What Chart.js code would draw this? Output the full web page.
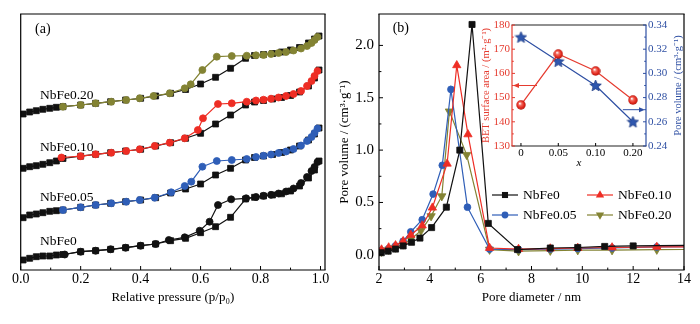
<!DOCTYPE html>
<html>
<head>
<meta charset="utf-8">
<script src="https://cdn.jsdelivr.net/npm/chart.js@4.4.1/dist/chart.umd.min.js"></script>
<style>
html,body{margin:0;padding:0;background:#fff;}
#wrap{position:relative;width:700px;height:324px;overflow:hidden;background:#fff;}
#wrap canvas{position:absolute;}
</style>
</head>
<body>
<div id="wrap">
<canvas id="ca" width="340" height="324" style="left:0;top:0"></canvas>
<canvas id="cb" width="370" height="324" style="left:330px;top:0"></canvas>
<canvas id="cc" width="240" height="175" style="left:460px;top:0"></canvas>
</div>
<script>
const FONT = "'Liberation Serif','Times New Roman',Times,serif";
Chart.defaults.font.family = FONT;
Chart.defaults.color = '#000';

/* ---------------- Panel (a): N2 isotherms (offset, arbitrary units) ---------------- */
const isoNames = ["NbFe0.20", "NbFe0.10", "NbFe0.05", "NbFe0"];
const adsP = [0.008,0.03,0.052,0.074,0.097,0.119,0.141,0.2,0.25,0.3,0.35,0.4,0.45,0.5,0.55,0.6,0.65,0.7,0.75,0.78,0.81,0.84,0.87,0.9,0.93,0.96,0.98,0.995];
const ads020 = [156,158,159.3,160.7,161.7,162.7,163.3,165,166.7,168.3,170,171.7,174,176.7,180.5,186,192.7,201.7,211.7,214.5,215.5,216.5,218,220,222.5,227,231,234];
const ads010 = [101.7,103.3,104.3,105.7,107.3,109,111.5,113.8,115.7,117.3,119,120.7,124,127.3,131.7,136.7,146,155,165,168,169.5,171,172.5,174.5,178,184,192,200];
const ads005 = [52.3,55,56,57.3,58.7,59.3,60,62.7,65,66.7,68.3,70,72.3,77,81,86,95,101.7,110,112.5,114,115.5,117.5,120,124,130,136,142];
const ads000 = [10,11.7,13.3,14,14,15,15.5,18.3,19.3,20.7,22.3,24.3,26,29.3,31.7,37.3,43.3,52.7,71,72.7,74,75,76.2,79,84,92,100,109];
const des020P = [0.99,0.98,0.97,0.955,0.935,0.91,0.885,0.86,0.835,0.81,0.785,0.754,0.704,0.654,0.606,0.567,0.547,0.497,0.443,0.397,0.352,0.302,0.25,0.2,0.141];
const des020 = [233,230,227,224,221.5,219.5,218,217,216,215,214.7,214.3,214,213.3,200,185.7,181.7,176.7,174,171.7,170,168.3,166.7,165,163.3];
const des010P = [0.99,0.98,0.97,0.955,0.935,0.91,0.885,0.86,0.835,0.81,0.785,0.754,0.704,0.658,0.608,0.591,0.547,0.497,0.447,0.397,0.352,0.302,0.25,0.2,0.136];
const des010 = [199,194,189,184,179,176,174,172.5,171.3,170.3,169.5,168.3,166.7,166,151.7,140,131.7,127.3,124,120.7,119,117.3,115.7,113.8,112.5];
const des005P = [0.99,0.98,0.97,0.955,0.935,0.91,0.885,0.86,0.835,0.81,0.785,0.754,0.704,0.654,0.606,0.569,0.547,0.502,0.447,0.397,0.352,0.302,0.25,0.2,0.141];
const des005 = [141.5,137,133,129,124.5,121,118.5,117,115.5,114.3,113,111,110,109,103.3,88.3,84,77.7,72.3,70,68.3,66.7,65,62.7,60];
const des000P = [0.99,0.98,0.97,0.955,0.935,0.91,0.885,0.86,0.835,0.81,0.785,0.752,0.702,0.658,0.63,0.597,0.547,0.494,0.45,0.4,0.35,0.3,0.25,0.2,0.147];
const des000 = [108,103,99,93,87,81.5,78.5,76.5,75.2,74.2,73,71.7,70.7,65,48.3,39.3,32.7,30,26,24.3,22.3,20.7,19.3,18.3,15.5];
const pTicks = [0, 0.2, 0.4, 0.6, 0.8, 1.0];

/* ---------------- Panel (b): BJH pore size distribution ---------------- */
const bjhNames = ["NbFe0", "NbFe0.10", "NbFe0.05", "NbFe0.20"];
const dia000 = [2.09,2.36,2.65,2.95,3.28,3.61,4.07,4.65,5.18,5.66,6.30,7.45,8.74,9.82,10.88,12.0,15.5];
const vol000 = [0.02,0.035,0.055,0.085,0.12,0.16,0.26,0.455,1.00,2.20,0.30,0.05,0.065,0.07,0.08,0.085,0.095];
const dia010 = [2.1,2.38,2.65,2.95,3.25,3.7,4.1,4.68,5.06,5.5,6.35,7.49,8.74,9.82,11.17,12.93,15.5];
const vol010 = [0.05,0.07,0.09,0.13,0.19,0.28,0.45,0.87,1.81,1.15,0.065,0.055,0.06,0.065,0.07,0.075,0.078];
const dia005 = [2.1,2.38,2.65,2.95,3.25,3.7,4.13,4.49,4.83,5.48,6.35,7.49,8.74,9.82,11.17,12.93,15.5];
const vol005 = [0.04,0.06,0.085,0.13,0.22,0.335,0.58,0.855,1.58,0.455,0.055,0.05,0.055,0.06,0.065,0.075,0.08];
const dia020 = [2.1,2.38,2.65,2.95,3.25,3.65,4.05,4.47,4.77,5.45,6.35,7.49,8.74,9.82,11.17,12.93,15.5];
const vol020 = [0.03,0.05,0.07,0.1,0.15,0.23,0.37,0.56,1.37,0.955,0.05,0.035,0.04,0.045,0.045,0.05,0.052];
const dTicks = [2, 4, 6, 8, 10, 12, 14];
const vTicks = [0, 0.5, 1.0, 1.5, 2.0];

/* ---------------- Inset ---------------- */
const insetCats = ["0", "0.05", "0.10", "0.20"];
const betArea = [147, 168, 161, 149];
const poreVol = [0.33, 0.31, 0.29, 0.26];
const betTicks = [130, 140, 150, 160, 170, 180];
const pvTicks = [0.24, 0.26, 0.28, 0.30, 0.32, 0.34];

/* ---------------- styles ---------------- */
const C = { black:'#111111', red:'#EE2D24', blue:'#2F5EB7', olive:'#838333',
            iRed:'#E53B2F', iBlue:'#2E4FA3' };
const pts = (xs, ys) => xs.map((x, i) => ({x: x, y: ys[i]}));
const fixTicks = arr => (s => { s.ticks = arr.map(v => ({value: v})); });

function markerPath(ctx, style, x, y, r) {
  ctx.beginPath();
  if (style === 'rect') { const s = r * Math.SQRT1_2; ctx.rect(x - s, y - s, 2 * s, 2 * s); }
  else if (style === 'circle') { ctx.arc(x, y, r, 0, Math.PI * 2); }
  else {
    let rad = style === 'triDown' ? Math.PI : 0;
    for (let k = 0; k < 3; k++) {
      const px = x + Math.sin(rad) * r, py = y - Math.cos(rad) * r;
      if (k === 0) ctx.moveTo(px, py); else ctx.lineTo(px, py);
      rad += Math.PI * 2 / 3;
    }
    ctx.closePath();
  }
}

const decor = {
  id: 'decor',
  afterDatasetsDraw(chart, args, o) {
    const ctx = chart.ctx, a = chart.chartArea;
    ctx.save();
    if (o.frame) {
      const f = o.frame;
      const seg = (x1, y1, x2, y2, c) => { ctx.strokeStyle = c; ctx.lineWidth = f.width; ctx.beginPath(); ctx.moveTo(x1, y1); ctx.lineTo(x2, y2); ctx.stroke(); };
      seg(a.left - 0.6, a.top, a.right + 0.6, a.top, f.top);
      seg(a.left - 0.6, a.bottom, a.right + 0.6, a.bottom, f.bottom);
      seg(a.left, a.top, a.left, a.bottom, f.left);
      seg(a.right, a.top, a.right, a.bottom, f.right);
    }
    (o.ticks || []).forEach(t => {
      const s = chart.scales[t.id];
      const vals = s.ticks.map(k => k.value);
      const minors = [];
      if (t.minor) for (let i = 0; i < vals.length - 1; i++) for (let j = 1; j <= t.minor; j++) minors.push(vals[i] + (vals[i + 1] - vals[i]) * j / (t.minor + 1));
      ctx.strokeStyle = t.color || '#000'; ctx.lineWidth = t.width || 1;
      const draw = (v, len) => {
        const p = s.getPixelForValue(v);
        ctx.beginPath();
        if (t.side === 'bottom') { ctx.moveTo(p, a.bottom); ctx.lineTo(p, a.bottom - len); }
        else if (t.side === 'left') { ctx.moveTo(a.left, p); ctx.lineTo(a.left + len, p); }
        else { ctx.moveTo(a.right, p); ctx.lineTo(a.right - len, p); }
        ctx.stroke();
      };
      vals.forEach(v => draw(v, t.len));
      minors.forEach(v => draw(v, t.len * 0.6));
    });
    (o.arrows || []).forEach(ar => {
      const ys = chart.scales[ar.yId], xs = chart.scales.x;
      const py = ys.getPixelForValue(ar.y), px0 = xs.getPixelForValue(ar.fromX);
      const px1 = ar.to === 'left' ? a.left + 1 : a.right - 1;
      const dir = ar.to === 'left' ? -1 : 1;
      ctx.strokeStyle = ar.color; ctx.fillStyle = ar.color; ctx.lineWidth = 1;
      ctx.beginPath(); ctx.moveTo(px0, py); ctx.lineTo(px1 - dir * 5, py); ctx.stroke();
      ctx.beginPath(); ctx.moveTo(px1, py); ctx.lineTo(px1 - dir * 6, py - 2.5); ctx.lineTo(px1 - dir * 6, py + 2.5); ctx.closePath(); ctx.fill();
    });
    (o.texts || []).forEach(tx => {
      ctx.save();
      ctx.font = tx.font; ctx.fillStyle = tx.color || '#000';
      ctx.textAlign = tx.align || 'left'; ctx.textBaseline = 'middle';
      const x = (tx.ref === 'right' ? a.right : a.left) + tx.dx;
      const y = tx.dy === 'mid' ? (a.top + a.bottom) / 2 : a.top + tx.dy;
      ctx.translate(x, y);
      if (tx.rot) ctx.rotate(tx.rot);
      ctx.fillText(tx.text, 0, 0);
      ctx.restore();
    });
    if (o.legend) {
      const L = o.legend;
      L.items.forEach(it => {
        const ds = chart.data.datasets[it.ds];
        const x0 = a.left + it.dx, y = a.top + it.dy;
        ctx.strokeStyle = ds.borderColor; ctx.fillStyle = ds.borderColor; ctx.lineWidth = 1.2;
        ctx.beginPath(); ctx.moveTo(x0, y); ctx.lineTo(x0 + L.len, y); ctx.stroke();
        markerPath(ctx, it.marker, x0 + L.len / 2, y, it.r); ctx.fill();
        ctx.font = L.font; ctx.fillStyle = '#000'; ctx.textAlign = 'left'; ctx.textBaseline = 'middle';
        ctx.fillText(ds.label, x0 + L.len + 5, y + 0.5);
      });
    }
    ctx.restore();
  }
};

/* ---------------- Chart A ---------------- */
function desDS(label, xs, ys, color) {
  return { label: label + ' desorption', data: pts(xs, ys), borderColor: color, backgroundColor: color,
    borderWidth: 1.2, pointStyle: 'circle', pointRadius: 3.5, pointBorderWidth: 0.8, tension: 0 };
}
function adsDS(label, ys) {
  return { label: label + ' adsorption', data: pts(adsP, ys), borderColor: C.black, backgroundColor: C.black,
    borderWidth: 1.2, pointStyle: 'rect', pointRadius: 4.2, pointBorderWidth: 0.8, tension: 0 };
}
new Chart(document.getElementById('ca'), {
  type: 'line',
  data: { datasets: [
    desDS(isoNames[0], des020P, des020, C.olive),
    desDS(isoNames[1], des010P, des010, C.red),
    desDS(isoNames[2], des005P, des005, C.blue),
    desDS(isoNames[3], des000P, des000, C.black),
    adsDS(isoNames[0], ads020), adsDS(isoNames[1], ads010), adsDS(isoNames[2], ads005), adsDS(isoNames[3], ads000)
  ]},
  options: {
    responsive: false, animation: false, devicePixelRatio: 1,
    layout: { padding: { left: 20.7, right: 15, top: 14, bottom: 0 } },
    plugins: {
      legend: { display: false }, tooltip: { enabled: false },
      decor: {
        frame: { width: 1.2, top: '#000', bottom: '#000', left: '#000', right: '#000' },
        ticks: [{ id: 'x', side: 'bottom', len: 4, minor: 1 }],
        texts: [
          { text: '(a)', dx: 14.3, dy: 15, font: "14px " + FONT },
          { text: isoNames[0], dx: 19.3, dy: 81, font: "13.5px " + FONT },
          { text: isoNames[1], dx: 19.3, dy: 133, font: "13.5px " + FONT },
          { text: isoNames[2], dx: 19.3, dy: 183.3, font: "13.5px " + FONT },
          { text: isoNames[3], dx: 19.3, dy: 227.7, font: "13.5px " + FONT }
        ]
      }
    },
    scales: {
      x: { type: 'linear', min: 0, max: 1.015, afterBuildTicks: fixTicks(pTicks),
        ticks: { font: { size: 14 }, color: '#000', padding: 1, maxRotation: 0, autoSkip: false, callback: v => v.toFixed(1) },
        grid: { display: false, drawTicks: false }, border: { display: false },
        title: { display: true, text: 'Relative pressure (p/p₀)', font: { size: 13 }, color: '#000', padding: { top: 0, bottom: 19 } },
        afterFit: s => { s.height = 54; } },
      y: { type: 'linear', min: 0, max: 256, display: false }
    }
  },
  plugins: [decor]
});

/* ---------------- Chart B ---------------- */
function bjhDS(label, xs, ys, color, style, r, rot) {
  return { label: label, data: pts(xs, ys), borderColor: color, backgroundColor: color, borderWidth: 1.2,
    pointStyle: style, pointRadius: r, pointRotation: rot || 0, pointBorderWidth: 0.8, tension: 0 };
}
new Chart(document.getElementById('cb'), {
  type: 'line',
  data: { datasets: [
    bjhDS(bjhNames[0], dia000, vol000, C.black, 'rect', 4.3),
    bjhDS(bjhNames[1], dia010, vol010, C.red, 'triangle', 4.8),
    bjhDS(bjhNames[2], dia005, vol005, C.blue, 'circle', 3.4),
    bjhDS(bjhNames[3], dia020, vol020, C.olive, 'triangle', 4.8, 180)
  ]},
  options: {
    responsive: false, animation: false, devicePixelRatio: 1,
    layout: { padding: { left: 0, right: 16, top: 14, bottom: 0 } },
    plugins: {
      legend: { display: false }, tooltip: { enabled: false },
      decor: {
        frame: { width: 1.2, top: '#000', bottom: '#000', left: '#000', right: '#000' },
        ticks: [{ id: 'x', side: 'bottom', len: 4, minor: 1 }, { id: 'y', side: 'left', len: 4, minor: 1 }],
        texts: [{ text: '(b)', dx: 13.7, dy: 14.3, font: "14px " + FONT }],
        legend: { len: 26, font: "13.5px " + FONT, items: [
          { ds: 0, dx: 113, dy: 181, marker: 'rect', r: 4.3 },
          { ds: 1, dx: 208, dy: 181, marker: 'triangle', r: 4.8 },
          { ds: 2, dx: 113, dy: 201, marker: 'circle', r: 3.4 },
          { ds: 3, dx: 208, dy: 201, marker: 'triDown', r: 4.8 }
        ]}
      }
    },
    scales: {
      x: { type: 'linear', min: 2, max: 14, afterBuildTicks: fixTicks(dTicks),
        ticks: { font: { size: 14 }, color: '#000', padding: 1, maxRotation: 0, autoSkip: false },
        grid: { display: false, drawTicks: false }, border: { display: false },
        title: { display: true, text: 'Pore diameter / nm', font: { size: 13 }, color: '#000', padding: { top: 0, bottom: 19 } },
        afterFit: s => { s.height = 54; } },
      y: { type: 'linear', min: -0.145, max: 2.3, afterBuildTicks: fixTicks(vTicks),
        ticks: { font: { size: 15 }, color: '#000', padding: 5, autoSkip: false, callback: v => v.toFixed(1) },
        grid: { display: false, drawTicks: false }, border: { display: false },
        title: { display: true, text: 'Pore volume / (cm³·g⁻¹)', font: { size: 13 }, color: '#000', padding: { top: 7.2, bottom: 0 } },
        afterFit: s => { s.width = 49; } }
    }
  },
  plugins: [decor]
});

/* ---------------- Chart C (inset) ---------------- */
function makeBall(d) {
  const c = document.createElement('canvas'); c.width = c.height = d;
  const g = c.getContext('2d'); const r = d / 2;
  const grd = g.createRadialGradient(r * 0.75, r * 0.7, 0.3, r, r, r);
  grd.addColorStop(0, '#ffffff'); grd.addColorStop(0.3, '#F26A5E'); grd.addColorStop(0.7, '#E2261B'); grd.addColorStop(1, '#A8140C');
  g.fillStyle = grd; g.beginPath(); g.arc(r, r, r - 0.3, 0, Math.PI * 2); g.fill();
  return c;
}
function makeStar(d) {
  const c = document.createElement('canvas'); c.width = c.height = d;
  const g = c.getContext('2d'); const R = d / 2 - 0.5, ri = R * 0.45, cx = d / 2, cy = d / 2 + 0.5;
  g.beginPath();
  for (let k = 0; k < 10; k++) {
    const rr = k % 2 ? ri : R, ang = -Math.PI / 2 + k * Math.PI / 5;
    const px = cx + rr * Math.cos(ang), py = cy + rr * Math.sin(ang);
    if (k === 0) g.moveTo(px, py); else g.lineTo(px, py);
  }
  g.closePath(); g.fillStyle = '#2F57AE'; g.fill(); g.strokeStyle = '#1E3C86'; g.lineWidth = 0.8; g.stroke();
  return c;
}
const ball = makeBall(10), star = makeStar(13);
new Chart(document.getElementById('cc'), {
  type: 'line',
  data: { datasets: [
    { label: 'BET surface area', data: betArea.map((v, i) => ({x: i, y: v})), yAxisID: 'yL',
      borderColor: C.iRed, borderWidth: 1.2, pointStyle: ball, pointRadius: 5, tension: 0 },
    { label: 'Pore volume', data: poreVol.map((v, i) => ({x: i, y: v})), yAxisID: 'yR',
      borderColor: C.iBlue, borderWidth: 1.2, pointStyle: star, pointRadius: 6, tension: 0 }
  ]},
  options: {
    responsive: false, animation: false, devicePixelRatio: 1,
    layout: { padding: { left: 0, right: 0, top: 25, bottom: 0 } },
    plugins: {
      legend: { display: false }, tooltip: { enabled: false },
      decor: {
        frame: { width: 1.2, top: '#222', bottom: '#222', left: C.iRed, right: C.iBlue },
        ticks: [{ id: 'x', side: 'bottom', len: 3, minor: 0 },
                { id: 'yL', side: 'left', len: 3, minor: 1, color: C.iRed },
                { id: 'yR', side: 'right', len: 3, minor: 1, color: C.iBlue }],
        arrows: [{ yId: 'yL', y: 155, fromX: 0.43, to: 'left', color: C.iRed },
                 { yId: 'yR', y: 0.27, fromX: 2.73, to: 'right', color: C.iBlue }],
        texts: [{ text: 'Pore volume / (cm³·g⁻¹)', ref: 'right', dx: 32, dy: 'mid', rot: -Math.PI / 2, align: 'center', font: "10.5px " + FONT, color: C.iBlue }]
      }
    },
    scales: {
      x: { type: 'linear', min: -0.24, max: 3.35, afterBuildTicks: fixTicks(insetCats.map((c, i) => i)),
        ticks: { font: { size: 11 }, color: '#000', padding: 1, maxRotation: 0, autoSkip: false, callback: v => insetCats[Math.round(v)] },
        grid: { display: false, drawTicks: false }, border: { display: false },
        title: { display: true, text: 'x', font: { size: 11, style: 'italic' }, color: '#000', padding: { top: 0, bottom: 5.4 } },
        afterFit: s => { s.height = 29; } },
      yL: { type: 'linear', position: 'left', min: 130, max: 180, afterBuildTicks: fixTicks(betTicks),
        ticks: { font: { size: 11 }, color: C.iRed, padding: 2, autoSkip: false },
        grid: { display: false, drawTicks: false }, border: { display: false },
        title: { display: true, text: 'BET surface area / (m²·g⁻¹)', font: { size: 10.5 }, color: C.iRed, padding: { top: 20, bottom: 0 } },
        afterFit: s => { s.width = 52; } },
      yR: { type: 'linear', position: 'right', min: 0.24, max: 0.34, afterBuildTicks: fixTicks(pvTicks),
        ticks: { font: { size: 11 }, color: C.iBlue, padding: 2, autoSkip: false, callback: v => v.toFixed(2) },
        grid: { display: false, drawTicks: false }, border: { display: false },
        afterFit: s => { s.width = 54; } }
    }
  },
  plugins: [decor]
});
</script>
</body>
</html>
